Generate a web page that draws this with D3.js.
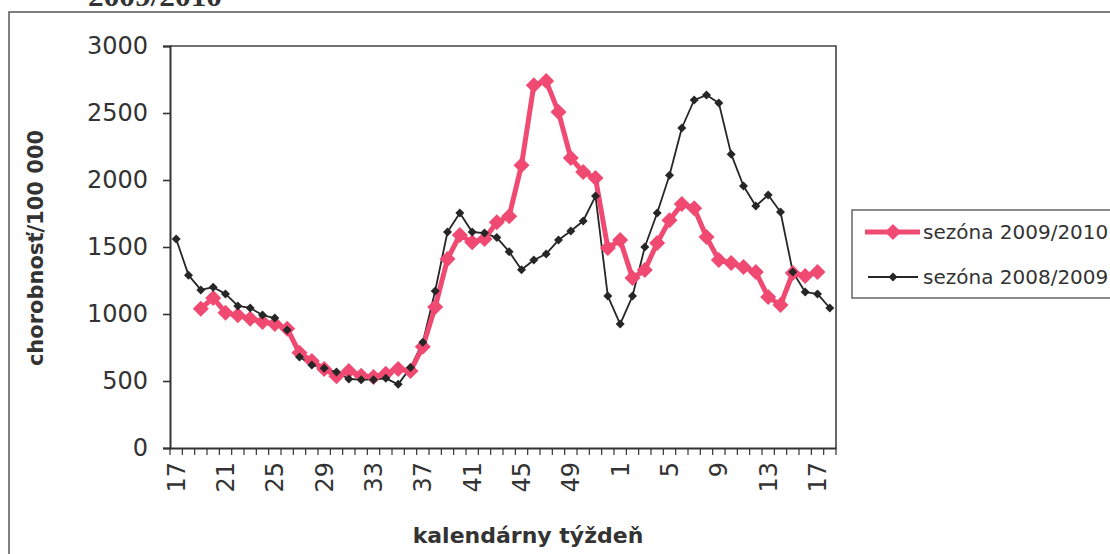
<!DOCTYPE html>
<html>
<head>
<meta charset="utf-8">
<script src="https://cdn.jsdelivr.net/npm/d3@7/dist/d3.min.js"></script>
<style>
  html, body { margin: 0; padding: 0; background: #fff; }
  svg { display: block; }
</style>
</head>
<body>
<svg id="chart" width="1110" height="554"></svg>
<script>
// ---- data ----
const weeks = [17,18,19,20,21,22,23,24,25,26,27,28,29,30,31,32,33,34,35,36,37,38,39,40,41,42,43,44,45,46,47,48,49,50,51,52,1,2,3,4,5,6,7,8,9,10,11,12,13,14,15,16,17,18];
const tickLabels = ["17","21","25","29","33","37","41","45","49","1","5","9","13","17"];
const season0910 = [null,null,1040,1120,1010,990,965,940,925,890,710,650,590,535,575,540,530,555,590,575,755,1052,1410,1590,1535,1560,1685,1730,2111,2708,2738,2507,2164,2059,2014,1492,1552,1268,1328,1530,1700,1820,1790,1574,1403,1380,1350,1313,1127,1067,1306,1283,1313,null];
const season0809 = [1560,1290,1180,1200,1150,1060,1045,992,970,880,679,619,595,567,515,510,510,520,475,600,790,1172,1612,1754,1612,1604,1570,1465,1330,1403,1448,1552,1619,1694,1880,1134,925,1134,1500,1754,2035,2388,2597,2634,2574,2193,1955,1806,1888,1761,1313,1164,1150,1045];
const yTicks = [0,500,1000,1500,2000,2500,3000];
const seriesNames = ["sezóna 2009/2010","sezóna 2008/2009"];

// ---- layout ----
const svg = d3.select("#chart");
const L = 170, R = 836, T = 46, B = 448;
const pink = "#f04a72", dark = "#262626";
const fontSans = "'DejaVu Sans', Verdana, sans-serif";

const x = d3.scaleBand().domain(d3.range(weeks.length)).range([L, R]).padding(0);
const y = d3.scaleLinear().domain([0, 3000]).range([B, T]);
const cx = i => x(i) + x.bandwidth() / 2;

// outer frame (chart area)
svg.append("path").attr("d", `M9,554 L9,12 L1110,12`)
  .attr("fill", "none").attr("stroke", "#555").attr("stroke-width", 1.5);

// cropped heading at top (cut by the page edge, as in the reference)
svg.append("text").attr("x", 88).attr("y", 6)
  .attr("font-family", "'Liberation Serif', 'DejaVu Serif', serif")
  .attr("font-weight", "bold").attr("font-size", 28)
  .attr("textLength", 134).attr("lengthAdjust", "spacingAndGlyphs")
  .attr("fill", "#333").text("2009/2010");

// plot area border (top and right)
svg.append("path").attr("d", `M${L},${T} L${R},${T} L${R},${B}`)
  .attr("fill", "none").attr("stroke", "#444").attr("stroke-width", 1.6);

// y axis
const yAxis = svg.append("g").attr("transform", `translate(${L},0)`)
  .call(d3.axisLeft(y).tickValues(yTicks).tickSize(7).tickPadding(15).tickFormat(d3.format("d")));
yAxis.select(".domain").attr("stroke", "#333").attr("stroke-width", 2);
yAxis.selectAll(".tick line").attr("stroke", "#333").attr("stroke-width", 1.6);
yAxis.selectAll(".tick text").attr("font-family", fontSans).attr("font-size", 24).attr("fill", "#333");

// x axis
const xAxis = svg.append("g").attr("transform", `translate(0,${B})`)
  .call(d3.axisBottom(x).tickSize(0).tickFormat(""));
xAxis.select(".domain").attr("stroke", "#333").attr("stroke-width", 2);
// small ticks at every category boundary
const bounds = d3.range(weeks.length + 1).map(i => L + i * x.step());
svg.append("g").selectAll("line").data(bounds).join("line")
  .attr("x1", d => d).attr("x2", d => d).attr("y1", B).attr("y2", B + 7)
  .attr("stroke", "#333").attr("stroke-width", 1.2);
// rotated labels every 4th category
const labelIdx = d3.range(0, weeks.length, 4).slice(0, tickLabels.length);
svg.append("g").selectAll("text").data(labelIdx).join("text")
  .attr("transform", i => `translate(${cx(i)},${B + 14}) rotate(-90)`)
  .attr("text-anchor", "end").attr("dy", "0.36em")
  .attr("font-family", fontSans).attr("font-size", 24).attr("fill", "#333")
  .text((i, k) => tickLabels[k]);

// axis titles
svg.append("text").attr("x", 528).attr("y", 543).attr("text-anchor", "middle")
  .attr("font-family", fontSans).attr("font-weight", "bold").attr("font-size", 22)
  .attr("fill", "#333").text("kalendárny týždeň");
svg.append("text").attr("transform", `translate(35,248) rotate(-90)`)
  .attr("text-anchor", "middle").attr("dy", "0.36em")
  .attr("font-family", fontSans).attr("font-weight", "bold").attr("font-size", 21)
  .attr("fill", "#333").text("chorobnosť/100 000");

// series
const line = d3.line().defined(d => d.v != null).x(d => cx(d.i)).y(d => y(d.v));
const toPts = arr => arr.map((v, i) => ({ i, v }));
const diamond = r => `M0,${-r} L${r},0 L0,${r} L${-r},0 Z`;

// 2008/2009 (dark, thin)
svg.append("path").datum(toPts(season0809)).attr("d", line)
  .attr("fill", "none").attr("stroke", dark).attr("stroke-width", 1.8).attr("stroke-linejoin", "round");
// 2009/2010 (pink, thick)
svg.append("path").datum(toPts(season0910)).attr("d", line)
  .attr("fill", "none").attr("stroke", pink).attr("stroke-width", 5).attr("stroke-linejoin", "round");
svg.append("g").selectAll("path").data(toPts(season0910).filter(d => d.v != null)).join("path")
  .attr("transform", d => `translate(${cx(d.i)},${y(d.v)})`)
  .attr("d", diamond(8)).attr("fill", pink);
svg.append("g").selectAll("path").data(toPts(season0809)).join("path")
  .attr("transform", d => `translate(${cx(d.i)},${y(d.v)})`)
  .attr("d", diamond(4.5)).attr("fill", dark);

// legend
const lg = svg.append("g");
lg.append("rect").attr("x", 852).attr("y", 210).attr("width", 270).attr("height", 88)
  .attr("fill", "#fff").attr("stroke", "#666").attr("stroke-width", 1.5);
lg.append("line").attr("x1", 865).attr("x2", 920).attr("y1", 232).attr("y2", 232)
  .attr("stroke", pink).attr("stroke-width", 5);
lg.append("path").attr("transform", "translate(893,232)").attr("d", diamond(8)).attr("fill", pink);
lg.append("line").attr("x1", 868).attr("x2", 918).attr("y1", 277).attr("y2", 277)
  .attr("stroke", dark).attr("stroke-width", 1.8);
lg.append("path").attr("transform", "translate(893,277)").attr("d", diamond(4.5)).attr("fill", dark);
lg.selectAll("text.lab").data(seriesNames).join("text").attr("class", "lab")
  .attr("x", 923).attr("y", (d, k) => k === 0 ? 232 : 277).attr("dy", "0.36em")
  .attr("font-family", fontSans).attr("font-size", 20).attr("fill", "#333")
  .text(d => d);
</script>
</body>
</html>
